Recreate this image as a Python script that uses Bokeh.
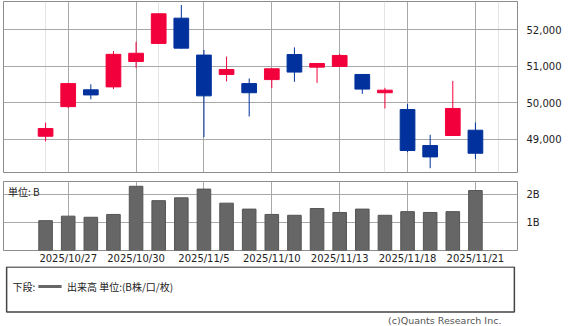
from bokeh.plotting import figure
from bokeh.layouts import column
from bokeh.models import ColumnDataSource, FixedTicker, Range1d, Grid, Label, NumeralTickFormatter
from bokeh.core.properties import value
from bokeh.embed import file_html
from bokeh.resources import INLINE

dates = ["2025/10/24", "2025/10/27", "2025/10/28", "2025/10/29", "2025/10/30",
         "2025/10/31", "2025/11/4", "2025/11/5", "2025/11/6", "2025/11/7",
         "2025/11/10", "2025/11/11", "2025/11/12", "2025/11/13", "2025/11/14",
         "2025/11/17", "2025/11/18", "2025/11/19", "2025/11/20", "2025/11/21"]
opens = [49080, 49890, 50350, 50430, 51125, 51620, 52310, 51300, 50770, 50520,
         50630, 51315, 50970, 50990, 50770, 50270, 49810, 48825, 49100, 49245]
highs = [49450, 50540, 50500, 51410, 51660, 52440, 52670, 51440, 51260, 50660,
         50930, 51510, 51085, 51335, 50775, 50405, 49965, 49120, 50595, 49455]
lows = [48940, 49850, 50090, 50370, 50950, 51600, 51480, 49055, 50580, 49620,
        50395, 50570, 50540, 50985, 50240, 49840, 48645, 48205, 49095, 48460]
closes = [49290, 50520, 50210, 51320, 51350, 52430, 51490, 50185, 50905, 50270,
          50925, 50835, 51070, 51290, 50370, 50340, 48690, 48515, 49840, 48615]
volumes = [1.06, 1.22, 1.18, 1.28, 2.28, 1.77, 1.87, 2.18, 1.68, 1.47,
           1.28, 1.25, 1.49, 1.35, 1.47, 1.25, 1.38, 1.35, 1.38, 2.13]
date_labels = ["2025/10/27", "2025/10/30", "2025/11/5", "2025/11/10",
               "2025/11/13", "2025/11/18", "2025/11/21"]
price_ticks = [49000, 50000, 51000, 52000]
volume_ticks = [1, 2]
volume_tick_labels = ["1B", "2B"]
unit_text = "単位: B"
legend_title = "下段:"
legend_label = "出来高 単位:(B株/口/枚)"
credit = "(c)Quants Research Inc."

UP = "#f2003c"
DOWN = "#00319c"
GRID = "#a8a8a8"
FRAME = "#8c8c8c"
FONT = "DejaVu Sans"
JFONT = "Noto Sans CJK JP"

idx = list(range(len(dates)))
colors = [UP if c >= o else DOWN for o, c in zip(opens, closes)]
src = ColumnDataSource(dict(
    x=idx, o=opens, h=highs, l=lows, c=closes,
    top=[max(o, c) for o, c in zip(opens, closes)],
    bot=[min(o, c) for o, c in zip(opens, closes)],
    color=colors, vol=volumes))
label_idx = [dates.index(d) for d in date_labels]

W = 575
xr = Range1d(-1.86, len(dates) - 1 + 1.86)


def style_axis(ax, standoff):
    ax.axis_line_color = None
    ax.major_tick_line_color = None
    ax.minor_tick_line_color = None
    ax.major_tick_out = 0
    ax.major_tick_in = 0
    ax.minor_tick_out = 0
    ax.minor_tick_in = 0
    ax.major_label_standoff = standoff
    ax.major_label_text_font = FONT
    ax.major_label_text_font_size = "10px"
    ax.major_label_text_color = "#222222"


# ---- price panel
p = figure(width=W, height=176, x_range=xr, y_range=Range1d(48088, 52766),
           output_backend="svg", toolbar_location=None,
           x_axis_location=None, y_axis_location="right",
           min_border_left=3, min_border_right=58, min_border_top=1, min_border_bottom=4)
p.outline_line_color = FRAME
p.background_fill_color = "white"
p.yaxis.ticker = FixedTicker(ticks=price_ticks)
p.yaxis.formatter = NumeralTickFormatter(format="0,0")
style_axis(p.yaxis[0], 9)
p.ygrid.grid_line_color = GRID
p.add_layout(Grid(dimension=0, ticker=FixedTicker(ticks=label_idx), grid_line_color=GRID))
p.segment(x0="x", y0="h", x1="x", y1="l", source=src, line_color="color", line_width=1)
p.vbar(x="x", top="top", bottom="bot", width=0.65, source=src,
       fill_color="color", line_color="color")

# ---- volume panel
v = figure(width=W, height=90, x_range=xr, y_range=Range1d(0, 2.45),
           output_backend="svg", toolbar_location=None, y_axis_location="right",
           min_border_left=3, min_border_right=58, min_border_top=5, min_border_bottom=14)
v.outline_line_color = FRAME
v.yaxis.ticker = FixedTicker(ticks=volume_ticks)
v.yaxis.major_label_overrides = {t: s for t, s in zip(volume_ticks, volume_tick_labels)}
style_axis(v.yaxis[0], 9)
v.xaxis.ticker = FixedTicker(ticks=label_idx)
v.xaxis.major_label_overrides = {i: dates[i] for i in label_idx}
style_axis(v.xaxis[0], 2)
v.xgrid.grid_line_color = GRID
v.ygrid.grid_line_color = GRID
v.vbar(x="x", top="vol", bottom=0, width=0.6, source=src,
       fill_color="#666666", line_color="#555555")
v.add_layout(Label(x=xr.start + 0.2, y=2.45 - 0.08, text=unit_text, text_baseline="top",
                   text_font=JFONT, text_font_size="10px", text_color="#222222"))

# ---- legend / credit strip
g = figure(width=W, height=60, x_range=Range1d(0, W), y_range=Range1d(0, 60),
           output_backend="svg", toolbar_location=None,
           x_axis_location=None, y_axis_location=None,
           min_border_left=0, min_border_right=0, min_border_top=0, min_border_bottom=0)
g.outline_line_color = None
g.xgrid.visible = False
g.ygrid.visible = False
g.quad(left=3.5, right=571.5, bottom=14.5, top=59.5, fill_color="white",
       line_color="#444444", line_width=1.5)
g.text(x=[10], y=[40], text=[legend_title], text_baseline="middle",
       text_font=value(JFONT), text_font_size="10px", text_color="#222222")
g.segment(x0=[39], y0=[40], x1=[65], y1=[40], line_color="#666666", line_width=3)
g.text(x=[71], y=[40], text=[legend_label], text_baseline="middle",
       text_font=value(JFONT), text_font_size="10px", text_color="#222222")
g.text(x=[557], y=[6], text=[credit], text_align="right", text_baseline="middle",
       text_font=value(FONT), text_font_size="9.5px", text_color="#555555")

layout = column(p, v, g, spacing=0)
open("out.html", "w").write(file_html(layout, INLINE))
